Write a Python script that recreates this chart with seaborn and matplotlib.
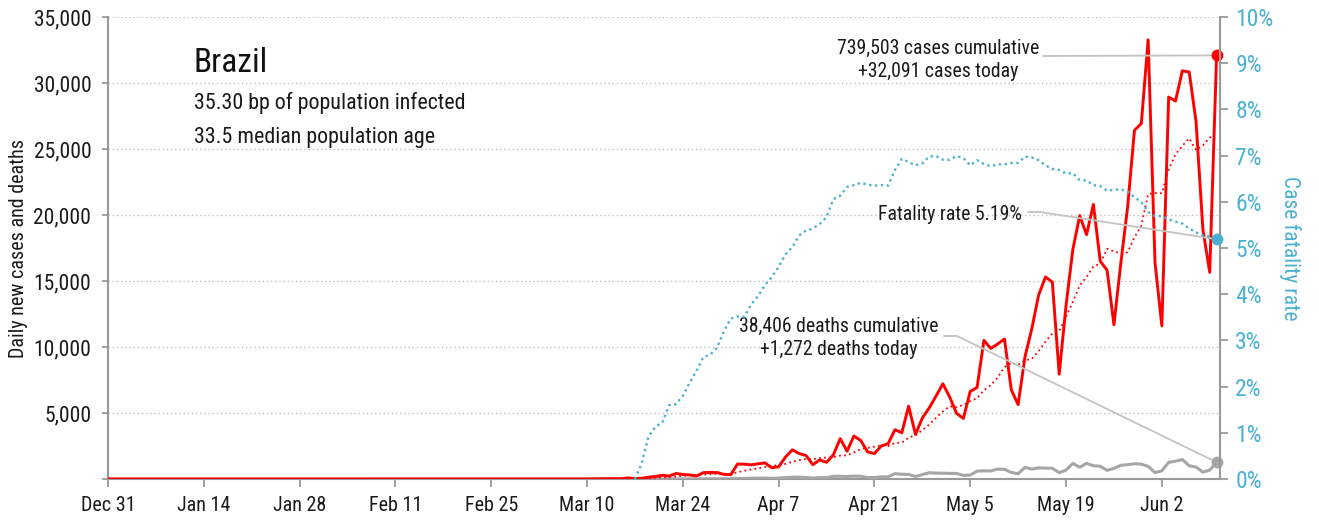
import numpy as np
import pandas as pd
import matplotlib
matplotlib.use("Agg")
import matplotlib.pyplot as plt
from matplotlib import font_manager as fm
from matplotlib.lines import Line2D
import seaborn as sns

# ---------------- data ----------------
first_day = "2019-12-31"
last_day = "2020-06-10"
cfr_first_day = "2020-03-17"

# daily new cases
cases_dec31_feb29 = [0] * 57 + [0, 1, 0, 0]
cases_mar = [1, 0, 0, 0, 1, 5, 5, 6, 6, 0,
             9, 18, 25, 21, 23, 79, 34, 57, 137, 193,
             283, 224, 418, 345, 310, 232, 482, 502, 487, 352,
             323]
cases_apr = [1138, 1119, 1074, 1146, 1222, 852, 926, 1661, 2210, 1930,
             1781, 1089, 1442, 1261, 1832, 3058, 2105, 3257, 2917, 2055,
             1927, 2498, 2678, 3735, 3503, 5514, 3379, 4613, 5385, 6276]
cases_may = [7218, 6209, 4970, 4588, 6633, 6935, 10503, 9888, 10222, 10611,
             6760, 5632, 9258, 11385, 13944, 15305, 14919, 7938, 13140, 17408,
             19951, 18508, 20803, 16508, 15813, 11687, 16324, 20599, 26417, 26928,
             33274]
cases_jun = [16409, 11598, 28936, 28633, 30925, 30830, 27075, 18912, 15654, 32091]

# daily new deaths
deaths_dec31_mar17 = [0] * 78
deaths_mar18_31 = [1, 3, 3, 4, 7, 7, 9, 12, 11, 20, 15, 19, 25, 23]
deaths_apr = [42, 39, 59, 60, 73, 54, 67, 114, 133, 141,
              115, 68, 99, 105, 204, 204, 188, 217, 206, 115,
              113, 166, 165, 407, 357, 346, 189, 338, 474, 449]
deaths_may = [435, 428, 421, 275, 296, 600, 615, 610, 751, 730,
              496, 396, 881, 749, 844, 824, 816, 485, 674, 1179,
              888, 1188, 1001, 965, 653, 807, 1039, 1086, 1156, 1124,
              956]
deaths_jun = [480, 623, 1262, 1349, 1473, 1005, 904, 525, 679, 1272]

# case fatality rate (%)
cfr_mar17_31 = [0.0, 0.34, 0.93, 1.13, 1.22, 1.60, 1.62, 1.80, 2.09, 2.34,
                2.64, 2.69, 2.84, 3.20, 3.47]
cfr_apr = [3.52, 3.51, 3.78, 3.96, 4.20, 4.37, 4.59, 4.86, 5.02, 5.27,
           5.38, 5.42, 5.52, 5.67, 6.06, 6.13, 6.32, 6.36, 6.41, 6.37,
           6.35, 6.36, 6.35, 6.69, 6.93, 6.86, 6.79, 6.83, 6.98, 6.99]
cfr_may = [6.91, 6.91, 6.99, 6.95, 6.79, 6.90, 6.82, 6.77, 6.81, 6.81,
           6.84, 6.84, 6.98, 6.96, 6.90, 6.79, 6.71, 6.69, 6.61, 6.62,
           6.47, 6.46, 6.36, 6.34, 6.24, 6.26, 6.27, 6.22, 6.10, 5.99,
           5.78]
cfr_jun = [5.69, 5.69, 5.62, 5.57, 5.53, 5.42, 5.34, 5.27, 5.25, 5.19]

xtick_dates = ["2019-12-31", "2020-01-14", "2020-01-28", "2020-02-11", "2020-02-25",
               "2020-03-10", "2020-03-24", "2020-04-07", "2020-04-21", "2020-05-05",
               "2020-05-19", "2020-06-02"]
xtick_labels = ["Dec 31", "Jan 14", "Jan 28", "Feb 11", "Feb 25", "Mar 10",
                "Mar 24", "Apr 7", "Apr 21", "May 5", "May 19", "Jun 2"]
left_ticks = [0, 5000, 10000, 15000, 20000, 25000, 30000, 35000]
left_tick_labels = ["", "5,000", "10,000", "15,000", "20,000", "25,000", "30,000", "35,000"]
right_ticks = [0, 1, 2, 3, 4, 5, 6, 7, 8, 9, 10]
right_tick_labels = ["0%", "1%", "2%", "3%", "4%", "5%", "6%", "7%", "8%", "9%", "10%"]

title = "Brazil"
subtitle_1 = "35.30 bp of population infected"
subtitle_2 = "33.5 median population age"
cases_note = "739,503 cases cumulative\n+32,091 cases today"
deaths_note = "38,406 deaths cumulative\n+1,272 deaths today"
cfr_note = "Fatality rate 5.19%"
left_label = "Daily new cases and deaths"
right_label = "Case fatality rate"

# ---------------- style ----------------
RED = "#ff0000"
BLUE = "#4bb1d2"
GRAY = "#a6a6a6"
SPINE = "#9a9a9a"
CONNECT = "#c3c3c3"
TEXT = "#1a1a1a"

sns.set_theme(style="white")

names = {f.name for f in fm.fontManager.ttflist}
font_choice = None
scale = 1.0
for cand in ["Liberation Sans Narrow", "Roboto Condensed", "Arial Narrow", "Nimbus Sans Narrow"]:
    if cand in names:
        font_choice = cand
        break
if font_choice is None:
    font_choice = "Liberation Sans" if "Liberation Sans" in names else "DejaVu Sans"
    scale = 0.84
plt.rcParams["font.family"] = [font_choice, "DejaVu Sans"]


def fs(v):
    return v * scale


# ---------------- frame ----------------
dates = pd.date_range(first_day, last_day, freq="D")
cases = cases_dec31_feb29 + cases_mar + cases_apr + cases_may + cases_jun
deaths = deaths_dec31_mar17 + deaths_mar18_31 + deaths_apr + deaths_may + deaths_jun
df = pd.DataFrame({"date": dates, "cases": cases, "deaths": deaths})
df["cases_avg"] = df["cases"].rolling(7, min_periods=1).mean()

cfr = cfr_mar17_31 + cfr_apr + cfr_may + cfr_jun
dfr = pd.DataFrame({"date": pd.date_range(cfr_first_day, last_day, freq="D"), "cfr": cfr})

W, H = 1319, 520
fig = plt.figure(figsize=(W / 100, H / 100), dpi=100)
L, R, T, B = 108, 1220, 17, 479
ax = fig.add_axes([L / W, (H - B) / H, (R - L) / W, (B - T) / H])
ax2 = ax.twinx()

sns.lineplot(data=df, x="date", y="deaths", ax=ax, color=GRAY, lw=2.2, legend=False, zorder=3)
sns.lineplot(data=df, x="date", y="cases_avg", ax=ax, color=RED, lw=1.3,
             linestyle=(0, (1, 1.8)), legend=False, zorder=4)
sns.lineplot(data=df, x="date", y="cases", ax=ax, color=RED, lw=2.1, legend=False, zorder=5)
sns.lineplot(data=dfr, x="date", y="cfr", ax=ax2, color=BLUE, lw=1.7,
             linestyle=(0, (1, 1.5)), legend=False, zorder=3)

ax.set_xlim(pd.Timestamp(first_day), pd.Timestamp(last_day) + pd.Timedelta(hours=12))
ax.set_ylim(0, 35000)
ax2.set_ylim(0, 10)

ax.set_xticks(pd.to_datetime(xtick_dates))
ax.set_xticklabels(xtick_labels)
ax.set_yticks(left_ticks)
ax.set_yticklabels(left_tick_labels)
ax2.set_yticks(right_ticks)
ax2.set_yticklabels(right_tick_labels)

ax.set_xlabel("")
ax.set_ylabel(left_label, fontsize=fs(14.5), color=TEXT, va="center")
ax.yaxis.set_label_coords(-(L - 18) / (R - L), 0.5)
ax2.set_ylabel(right_label, fontsize=fs(15.5), color=BLUE, rotation=270, va="center")
ax2.yaxis.set_label_coords((1290 - L) / (R - L), 0.5)

ax.grid(axis="y", linestyle=(0, (1, 2)), color="#bdbdbd", lw=1.0)
ax.grid(axis="x", visible=False)
ax2.grid(False)
ax.set_axisbelow(True)

for a in (ax, ax2):
    a.spines["top"].set_visible(False)
ax.spines["right"].set_visible(False)
ax2.spines["left"].set_visible(False)
ax2.spines["bottom"].set_visible(False)
for sp in (ax.spines["left"], ax.spines["bottom"], ax2.spines["right"]):
    sp.set_color(SPINE)
    sp.set_linewidth(1.5)

ax.tick_params(axis="x", bottom=True, length=6, width=1.3, color=SPINE,
               labelsize=fs(14.5), labelcolor=TEXT, pad=6)
ax.tick_params(axis="y", left=True, length=4, width=1.3, color=SPINE,
               labelsize=fs(15.5), labelcolor=TEXT, pad=8)
ax2.tick_params(axis="y", right=True, length=6, width=1.3, color=SPINE,
                labelsize=fs(17), labelcolor=BLUE, pad=5)

# ---------------- end markers ----------------
last = df.iloc[[-1]]
last_r = dfr.iloc[[-1]]
ax.plot(last["date"], last["cases"], "o", color=RED, ms=7.5, zorder=10, clip_on=False)
ax.plot(last["date"], last["deaths"], "o", color=GRAY, ms=7.5, zorder=10, clip_on=False)
ax2.plot(last_r["date"], last_r["cfr"], "o", color=BLUE, ms=7.5, zorder=10, clip_on=False)

# ---------------- texts ----------------
def fx(px):
    return (px - L) / (R - L)


def fy(py):
    return (B - py) / (B - T)


ax.text(fx(194), fy(63), title, transform=ax.transAxes, ha="left", va="center",
        fontsize=fs(24), color="#111111")
ax.text(fx(194), fy(103), subtitle_1, transform=ax.transAxes, ha="left", va="center",
        fontsize=fs(15.8), color=TEXT)
ax.text(fx(194), fy(138), subtitle_2, transform=ax.transAxes, ha="left", va="center",
        fontsize=fs(15.8), color=TEXT)

ax.text(fx(938), fy(60), cases_note, transform=ax.transAxes, ha="center", va="center",
        multialignment="center", fontsize=fs(14.2), color=TEXT, linespacing=1.25, zorder=12)
ax.text(fx(839), fy(338), deaths_note, transform=ax.transAxes, ha="center", va="center",
        multialignment="center", fontsize=fs(14.2), color=TEXT, linespacing=1.25, zorder=12)
ax.text(fx(1022), fy(214), cfr_note, transform=ax.transAxes, ha="right", va="center",
        fontsize=fs(14.2), color=TEXT, zorder=12)

# connectors (text anchor in axes fraction -> data point)
fig.canvas.draw()


def data_to_axes(a, x, y):
    disp = a.transData.transform((matplotlib.dates.date2num(x), y))
    return ax.transAxes.inverted().transform(disp)


def connector(points_px, a, date, val):
    end = data_to_axes(a, date, val)
    xs = [fx(p[0]) for p in points_px] + [end[0]]
    ys = [fy(p[1]) for p in points_px] + [end[1]]
    ax.add_line(Line2D(xs, ys, transform=ax.transAxes, color=CONNECT, lw=1.3,
                       clip_on=False, zorder=6))


connector([(1043, 56)], ax, last["date"].iloc[0], last["cases"].iloc[0])
connector([(1028, 212), (1040, 212)], ax2, last_r["date"].iloc[0], last_r["cfr"].iloc[0])
connector([(944, 336), (957, 336)], ax, last["date"].iloc[0], last["deaths"].iloc[0])

fig.savefig("out.png", dpi=100)
